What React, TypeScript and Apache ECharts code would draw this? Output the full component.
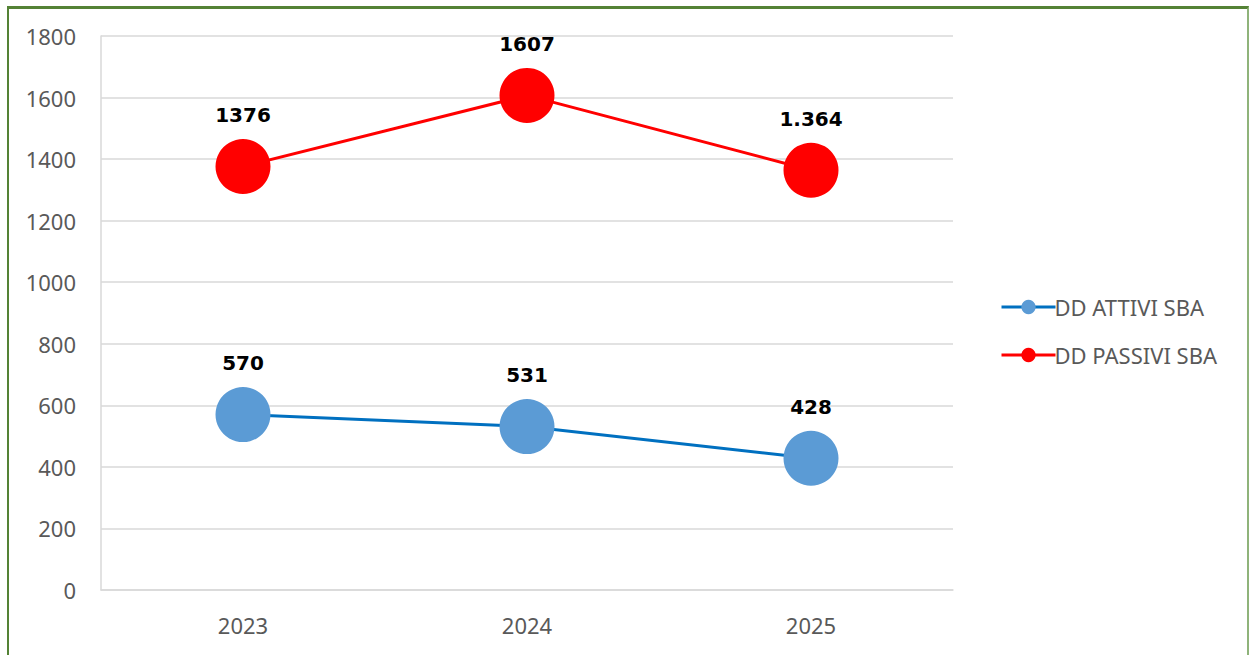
import React, { useEffect, useRef } from "react";
import * as echarts from "echarts";

const categories = ["2023", "2024", "2025"];
const attiviValues = [570, 531, 428];
const attiviLabels = ["570", "531", "428"];
const passiviValues = [1376, 1607, 1364];
const passiviLabels = ["1376", "1607", "1.364"];
const seriesNames = ["DD ATTIVI SBA", "DD PASSIVI SBA"];

const labelFont = "'DejaVu Sans', sans-serif";
const axisFont = "'Noto Sans', 'Open Sans', sans-serif";

export default function App() {
  const ref = useRef<HTMLDivElement>(null);
  useEffect(() => {
    document.body.style.margin = "0";
    const chart = echarts.init(ref.current!, undefined, { renderer: "svg" });
    const mk = (vals: number[], labels: string[]) =>
      vals.map((v, i) => ({
        value: v,
        label: { formatter: labels[i] },
      }));
    const labelStyle = {
      show: true,
      position: "top",
      distance: 14,
      fontFamily: labelFont,
      fontWeight: "bold",
      fontSize: 20,
      color: "#000000",
    };
    chart.setOption({
      animation: false,
      grid: { left: 101, right: 296, top: 36, bottom: 65, containLabel: false },
      legend: {
        orient: "vertical",
        left: 995,
        top: 291,
        itemWidth: 54,
        itemHeight: 18,
        itemGap: 26,
        lineStyle: { width: 3 },
        textStyle: { fontFamily: axisFont, fontSize: 22, color: "#595959", padding: [0, 0, 0, -6] },
        data: seriesNames,
      },
      xAxis: {
        type: "category",
        data: categories,
        boundaryGap: true,
        axisLine: { show: true, lineStyle: { color: "#D9D9D9", width: 1.5 } },
        axisTick: { show: false },
        axisLabel: { fontFamily: axisFont, fontSize: 22, color: "#595959", margin: 24 },
      },
      yAxis: {
        type: "value",
        min: 0,
        max: 1800,
        interval: 200,
        axisLine: { show: true, lineStyle: { color: "#D9D9D9", width: 1.5 } },
        axisTick: { show: false },
        splitLine: { lineStyle: { color: "#D9D9D9", width: 1.5 } },
        axisLabel: {
          fontFamily: axisFont,
          fontSize: 22,
          color: "#595959",
          margin: 25,
          formatter: (v: number) => String(v),
        },
      },
      series: [
        {
          name: seriesNames[0],
          type: "line",
          data: mk(attiviValues, attiviLabels),
          symbol: "circle",
          symbolSize: 55,
          lineStyle: { color: "#0070C0", width: 3 },
          itemStyle: { color: "#5B9BD5" },
          label: labelStyle,
        },
        {
          name: seriesNames[1],
          type: "line",
          data: mk(passiviValues, passiviLabels),
          symbol: "circle",
          symbolSize: 55,
          lineStyle: { color: "#FF0000", width: 3 },
          itemStyle: { color: "#FF0000" },
          label: labelStyle,
        },
      ],
    });
    return () => chart.dispose();
  }, []);
  return (
    <div style={{ position: "relative", width: 1249, height: 655, overflow: "hidden", background: "#fff" }}>
      <div
        style={{
          position: "absolute",
          left: 7,
          top: 6,
          width: 1242,
          height: 700,
          border: "2px solid #548235",
          borderTop: "3px solid #548235",
          borderRight: "2px solid #8FB37A",
          boxSizing: "border-box",
        }}
      />
      <div ref={ref} style={{ position: "absolute", left: 0, top: 0, width: 1249, height: 655 }} />
    </div>
  );
}
